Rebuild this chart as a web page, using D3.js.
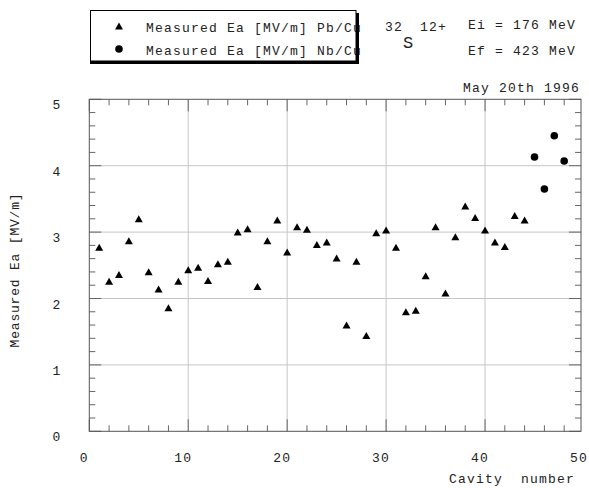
<!DOCTYPE html>
<html lang="en">

<head>
  <meta charset="UTF-8">
  <title>Measured Ea</title>
  <script src="https://cdn.jsdelivr.net/npm/d3@7"></script>
  <style>
    body { margin: 0; background: #fff; }
    text { font-family: 'Liberation Mono', 'Courier New', monospace; font-size: 13px; letter-spacing: 1.2px; fill: #222; white-space: pre; }
  </style>
</head>

<body>
  <svg width="589" height="488"></svg>
  <script>
    // Pb/Cu cavities 1..44, Nb/Cu cavities 45..48
    var pbCavities = d3.range(1, 45)
    var pbValues = [2.77, 2.26, 2.36, 2.87, 3.20, 2.40, 2.14, 1.86, 2.26, 2.43,
      2.47, 2.27, 2.52, 2.56, 3.00, 3.05, 2.18, 2.87, 3.18, 2.70,
      3.08, 3.04, 2.81, 2.85, 2.61, 1.60, 2.56, 1.44, 2.99, 3.03,
      2.77, 1.80, 1.82, 2.34, 3.08, 2.08, 2.93, 3.39, 3.22, 3.03,
      2.85, 2.78, 3.25, 3.18]
    var nbCavities = [45, 46, 47, 48]
    var nbValues = [4.13, 3.65, 4.45, 4.07]
    var xTickLabels = [0, 10, 20, 30, 40, 50]
    var yTickLabels = [0, 1, 2, 3, 4, 5]

    var svg = d3.select('svg')
    svg.append('rect').attr('width', 589).attr('height', 488).attr('fill', '#fff')

    var frame = { left: 89.3, right: 581, top: 99.3, bottom: 431.3 }
    var x = d3.scaleLinear().domain([0, 49.7]).range([frame.left, frame.right])
    var y = d3.scaleLinear().domain([0, 5]).range([frame.bottom, frame.top])

    // grid
    var grid = svg.append('g').attr('stroke', '#c6c6c6').attr('stroke-width', 1)
    grid.selectAll('.gx').data([10, 20, 30, 40]).enter().append('line')
      .attr('x1', d => x(d)).attr('x2', d => x(d)).attr('y1', frame.top).attr('y2', frame.bottom)
    grid.selectAll('.gy').data([1, 2, 3, 4]).enter().append('line')
      .attr('y1', d => y(d)).attr('y2', d => y(d)).attr('x1', frame.left).attr('x2', frame.right)

    // ticks on all four sides
    var ticks = svg.append('g').attr('stroke', '#666').attr('stroke-width', 1)
    var xt = d3.range(0, 50, 2)
    var yt = d3.range(0, 26).map(d => d / 5)
    var len = (d, step) => (Math.abs(d - Math.round(d / step) * step) < 1e-6 ? 12 : 6)
    ticks.selectAll('.xb').data(xt).enter().append('line')
      .attr('x1', d => x(d)).attr('x2', d => x(d)).attr('y1', frame.bottom).attr('y2', d => frame.bottom - len(d, 10))
    ticks.selectAll('.xt').data(xt).enter().append('line')
      .attr('x1', d => x(d)).attr('x2', d => x(d)).attr('y1', frame.top).attr('y2', d => frame.top + len(d, 10))
    ticks.selectAll('.yl').data(yt).enter().append('line')
      .attr('y1', d => y(d)).attr('y2', d => y(d)).attr('x1', frame.left).attr('x2', d => frame.left + len(d, 1))
    ticks.selectAll('.yr').data(yt).enter().append('line')
      .attr('y1', d => y(d)).attr('y2', d => y(d)).attr('x1', frame.right).attr('x2', d => frame.right - len(d, 1))

    svg.append('rect')
      .attr('x', frame.left).attr('y', frame.top)
      .attr('width', frame.right - frame.left).attr('height', frame.bottom - frame.top)
      .attr('fill', 'none').attr('stroke', '#555')

    // tick labels
    svg.selectAll('.xlab').data(xTickLabels).enter().append('text')
      .attr('x', d => x(d) - 5).attr('y', 462).attr('text-anchor', 'middle').text(d => d)
    svg.selectAll('.ylab').data(yTickLabels).enter().append('text')
      .attr('x', 57).attr('y', d => y(d) + 10).attr('text-anchor', 'middle').text(d => d)

    // axis titles
    svg.append('text').attr('x', 575).attr('y', 483).attr('text-anchor', 'end').text('Cavity  number')
    svg.append('text').attr('transform', 'translate(19,270) rotate(-90)')
      .attr('text-anchor', 'middle').style('letter-spacing', '0.8px').text('Measured Ea [MV/m]')

    // markers
    var tri = 'M0,-3.6L4,3.4L-4,3.4Z'
    svg.selectAll('.pb').data(pbValues).enter().append('path')
      .attr('d', tri).attr('fill', '#000')
      .attr('transform', (d, i) => `translate(${x(pbCavities[i])},${y(d)})`)
    svg.selectAll('.nb').data(nbValues).enter().append('circle')
      .attr('cx', (d, i) => x(nbCavities[i])).attr('cy', d => y(d)).attr('r', 3.8).attr('fill', '#000')

    // header texts
    svg.append('text').attr('x', 580).attr('y', 92).attr('text-anchor', 'end').text('May 20th 1996')
    svg.append('text').attr('x', 468).attr('y', 29).text('Ei = 176 MeV')
    svg.append('text').attr('x', 468).attr('y', 55).text('Ef = 423 MeV')
    svg.append('text').attr('x', 385).attr('y', 31).text('32')
    svg.append('text').attr('x', 420).attr('y', 31).text('12+')
    svg.append('text').attr('x', 403).attr('y', 48).style('font-size', '17px').style('letter-spacing', '0px').text('S')

    // legend box
    var lg = svg.append('g')
    lg.append('rect').attr('x', 90).attr('y', 10).attr('width', 266).attr('height', 51).attr('fill', '#fff')
    lg.append('path').attr('d', tri).attr('fill', '#000').attr('transform', 'translate(119,26)')
    lg.append('circle').attr('cx', 119).attr('cy', 49).attr('r', 3.8).attr('fill', '#000')
    lg.append('text').attr('x', 146).attr('y', 32).text('Measured Ea [MV/m] Pb/Cu')
    lg.append('text').attr('x', 146).attr('y', 55).text('Measured Ea [MV/m] Nb/Cu')
    lg.append('rect').attr('x', 356).attr('y', 13).attr('width', 3).attr('height', 51).attr('fill', '#000')
    lg.append('rect').attr('x', 90).attr('y', 61).attr('width', 269).attr('height', 3).attr('fill', '#000')
    lg.append('rect').attr('x', 90.5).attr('y', 10.5).attr('width', 265.5).attr('height', 50.5)
      .attr('fill', 'none').attr('stroke', '#000')
  </script>
</body>

</html>
